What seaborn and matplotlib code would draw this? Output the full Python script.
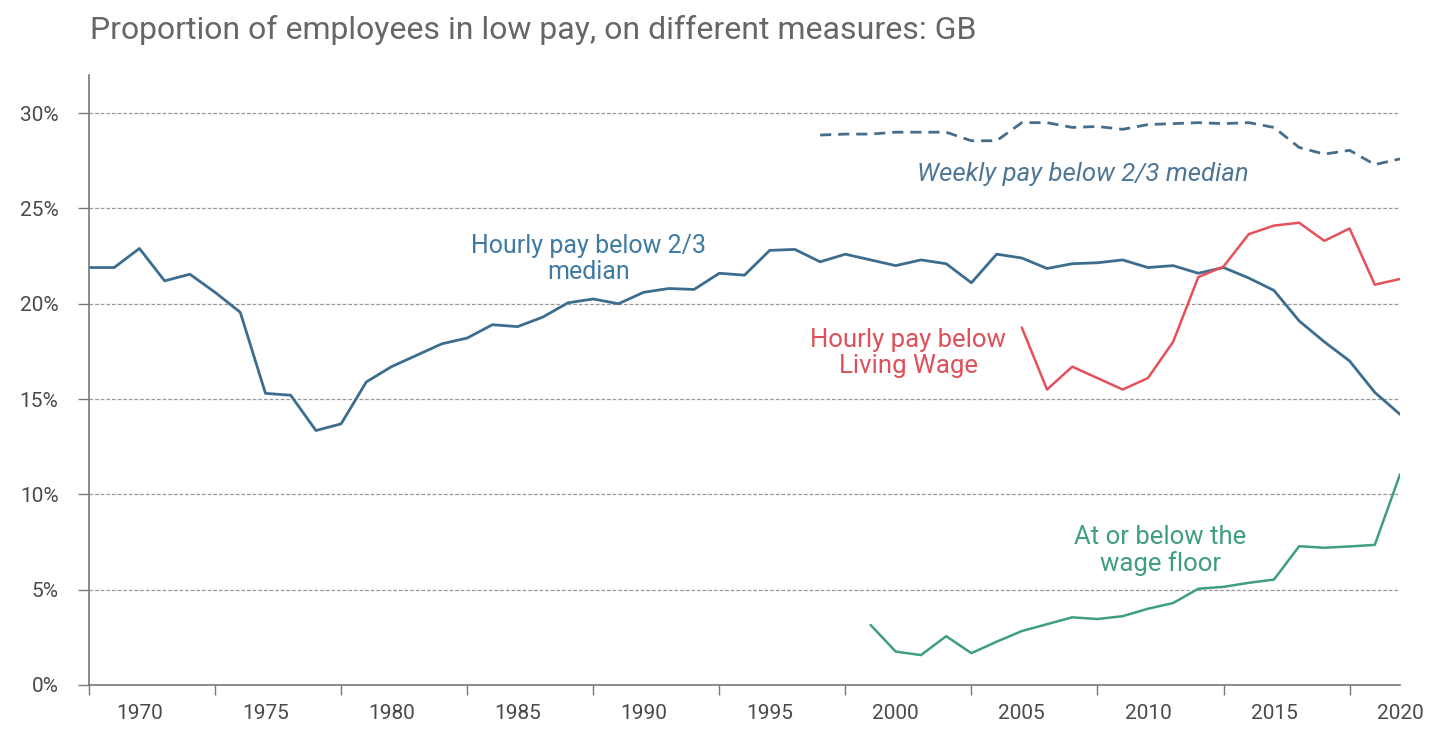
import numpy as np
import pandas as pd
import matplotlib
matplotlib.use("Agg")
import matplotlib.pyplot as plt
import seaborn as sns
from matplotlib.ticker import FixedLocator, FuncFormatter

# ---- data ----
years_hourly = list(range(1968, 2021))
hourly_below_two_thirds = [
    21.9, 21.9, 22.9, 21.2, 21.55, 20.6, 19.55, 15.3, 15.2, 13.35,
    13.7, 15.9, 16.7, 17.3, 17.9, 18.2, 18.9, 18.8, 19.3, 20.05,
    20.25, 20.0, 20.6, 20.8, 20.75, 21.6, 21.5, 22.8, 22.85, 22.2,
    22.6, 22.3, 22.0, 22.3, 22.1, 21.1, 22.6, 22.4, 21.85, 22.1,
    22.15, 22.3, 21.9, 22.0, 21.6, 21.9, 21.35, 20.7, 19.1, 18.0,
    17.0, 15.35, 14.2,
]
years_weekly = list(range(1997, 2021))
weekly_below_two_thirds = [
    28.85, 28.9, 28.9, 29.0, 29.0, 29.0, 28.55, 28.55, 29.5, 29.5,
    29.25, 29.3, 29.15, 29.4, 29.45, 29.5, 29.45, 29.5, 29.25, 28.2,
    27.85, 28.05, 27.3, 27.6,
]
years_living = list(range(2005, 2021))
living_wage = [
    18.75, 15.5, 16.7, 16.1, 15.5, 16.1, 18.0, 21.4, 21.95, 23.65,
    24.1, 24.25, 23.3, 23.95, 21.0, 21.3,
]
years_floor = list(range(1999, 2021))
wage_floor = [
    3.15, 1.75, 1.57, 2.56, 1.67, 2.27, 2.83, 3.19, 3.55, 3.46,
    3.61, 4.0, 4.3, 5.05, 5.15, 5.36, 5.53, 7.28, 7.2, 7.27,
    7.35, 11.05,
]
title = "Proportion of employees in low pay, on different measures: GB"
x_labels = list(range(1970, 2021, 5))
y_ticks = [0, 5, 10, 15, 20, 25, 30]

# ---- style ----
sns.set_theme(style="white")
plt.rcParams["font.family"] = ["Roboto", "DejaVu Sans"]

fig = plt.figure(figsize=(14.34, 7.3), dpi=100)
ax = fig.add_axes([89 / 1434, 1 - 685 / 730, (1400 - 89) / 1434, (685 - 75) / 730])

c_hourly = "#3d6d8e"
c_weekly = "#456e8c"
c_living = "#e5505b"
c_floor = "#3f9f7c"

df_h = pd.DataFrame({"year": years_hourly, "value": hourly_below_two_thirds})
df_w = pd.DataFrame({"year": years_weekly, "value": weekly_below_two_thirds})
df_l = pd.DataFrame({"year": years_living, "value": living_wage})
df_f = pd.DataFrame({"year": years_floor, "value": wage_floor})

sns.lineplot(data=df_h, x="year", y="value", ax=ax, color=c_hourly, lw=2.0)
sns.lineplot(data=df_w, x="year", y="value", ax=ax, color=c_weekly, lw=2.0,
             dashes=False, linestyle=(0, (4, 2.5)))
sns.lineplot(data=df_l, x="year", y="value", ax=ax, color=c_living, lw=1.8)
sns.lineplot(data=df_f, x="year", y="value", ax=ax, color=c_floor, lw=1.8)

ax.set_xlim(1968, 2020)
ax.set_ylim(0, 32)

# gridlines
for yv in y_ticks[1:]:
    ax.axhline(yv, color="#9a9a9a", lw=0.9, ls=(0, (3, 1.5)), zorder=0)

ax.yaxis.set_major_locator(FixedLocator(y_ticks))
ax.yaxis.set_major_formatter(FuncFormatter(lambda v, p: f"{int(v)}%"))
ax.xaxis.set_major_locator(FixedLocator(x_labels))
ax.xaxis.set_minor_locator(FixedLocator(list(range(1968, 2020, 5))))
ax.tick_params(axis="x", which="major", length=0, pad=14, labelsize=15,
               labelcolor="#4a4a4a")
ax.tick_params(axis="x", which="minor", length=7, width=1, color="#777777",
               direction="out", bottom=True)
ax.tick_params(axis="y", which="major", length=8, width=1, color="#777777",
               direction="out", left=True, pad=14, labelsize=15,
               labelcolor="#4a4a4a")

for s in ["top", "right"]:
    ax.spines[s].set_visible(False)
for s in ["left", "bottom"]:
    ax.spines[s].set_color("#777777")
    ax.spines[s].set_linewidth(1.2)

ax.set_xlabel("")
ax.set_ylabel("")

# annotations
ax.text(1987.8, 22.35, "Hourly pay below 2/3\nmedian", ha="center", va="center",
        color="#3f7aa3", fontsize=18, linespacing=1.1)
ax.text(2007.4, 26.8, "Weekly pay below 2/3 median", ha="center", va="center",
        color="#4e7695", fontsize=18.5, style="italic")
ax.text(2000.5, 17.4, "Hourly pay below\nLiving Wage", ha="center", va="center",
        color="#e0505a", fontsize=18.5, linespacing=1.1)
ax.text(2010.5, 7.07, "At or below the\nwage floor", ha="center", va="center",
        color="#3f9f7c", fontsize=18.5, linespacing=1.1)

fig.text(90 / 1434, 1 - 30 / 730, title, ha="left", va="center",
         color="#666666", fontsize=23)

fig.savefig("out.png", dpi=100)
